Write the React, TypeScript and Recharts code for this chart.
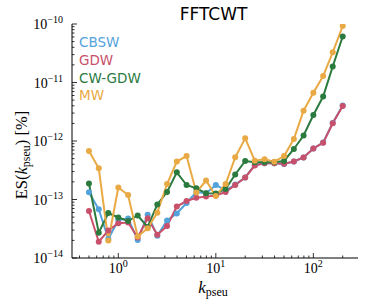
import { LineChart, Line, XAxis, YAxis, Legend, Label } from 'recharts';

const kPseu = [0.5, 0.63, 0.79, 1.0, 1.26, 1.58, 2.0, 2.51, 3.16, 3.98, 5.01, 6.31, 7.94, 10.0, 12.6, 15.8, 20.0, 25.1, 31.6, 39.8, 50.1, 63.1, 79.4, 100, 126, 158, 200];

const cbsw = [1.33e-13, 6.8e-14, 2.11e-14, 4.47e-14, 4.73e-14, 2.03e-14, 5.5e-14, 2.4e-14, 4.38e-14, 5.77e-14, 8.71e-14, 1.34e-13, 1.28e-13, 1.77e-13, 1.43e-13, 1.8e-13, 2.38e-13, 3.89e-13, 4.16e-13, 4.16e-13, 4.04e-13, 4.46e-13, 5.22e-13, 7.44e-13, 9.42e-13, 2.03e-12, 4.05e-12];
const gdw = [6.36e-14, 1.9e-14, 2.95e-14, 3.92e-14, 4.05e-14, 2.24e-14, 4.77e-14, 2.5e-14, 3.52e-14, 7.59e-14, 9.42e-14, 1.07e-13, 1.12e-13, 1.17e-13, 1.34e-13, 1.77e-13, 2.38e-13, 3.81e-13, 4.16e-13, 4.16e-13, 4.1e-13, 4.46e-13, 5.22e-13, 7.44e-13, 9.35e-13, 2.01e-12, 3.96e-12];
const cwGdw = [1.88e-13, 2.71e-14, 5.88e-14, 4.92e-14, 4.29e-14, 5.33e-14, 3.39e-14, 8.22e-14, 1.34e-13, 2.92e-13, 1.77e-13, 1.55e-13, 1.28e-13, 1.27e-13, 1.51e-13, 2.68e-13, 4.55e-13, 4.32e-13, 4.32e-13, 4.32e-13, 4.55e-13, 7.3e-13, 1.24e-12, 2.78e-12, 5.76e-12, 1.88e-11, 6.11e-11];
const mw = [6.75e-13, 3.41e-13, 1.99e-14, 1.6e-13, 1.19e-13, 2.33e-14, 3.22e-14, 5.95e-14, 1.84e-13, 4.46e-13, 5.54e-13, 1.32e-13, 2.11e-13, 1.15e-13, 1.84e-13, 5.26e-13, 1.11e-12, 4.61e-13, 4.87e-13, 4.43e-13, 5.54e-13, 1.08e-12, 3.3e-12, 6.7e-12, 1.29e-11, 3.28e-11, 9.25e-11];

const series = [
  { key: 'cbsw', name: 'CBSW', color: '#53a2db' },
  { key: 'gdw', name: 'GDW', color: '#c9506a' },
  { key: 'cwGdw', name: 'CW-GDW', color: '#2b7a3e' },
  { key: 'mw', name: 'MW', color: '#e9a944' },
];

const xMajor = [1, 10, 100];
const xMinor = [0.4, 0.5, 0.6, 0.7, 0.8, 0.9, 2, 3, 4, 5, 6, 7, 8, 9, 20, 30, 40, 50, 60, 70, 80, 90, 200];
const yMajor = [1e-14, 1e-13, 1e-12, 1e-11, 1e-10];
const minorSteps = [2, 3, 4, 5, 6, 7, 8, 9];
const yMinor = yMajor.slice(0, 4).flatMap((d) => minorSteps.map((m) => m * d));

const xDomain = [0.335, 287];
const yDomain = [1e-14, 1e-10];

const data = kPseu.map((k, i) => ({
  k,
  cbsw: cbsw[i],
  gdw: gdw[i],
  cwGdw: cwGdw[i],
  mw: mw[i],
}));

const SERIF = '"Liberation Serif", "DejaVu Serif", serif';
const SANS = '"DejaVu Sans", sans-serif';
const MAJOR_LEN = 5;
const MINOR_LEN = 2.5;

const isMajor = (v: number, majors: number[]) => majors.some((m) => Math.abs(v / m - 1) < 1e-6);
const expOf = (v: number) => {
  const e = Math.round(Math.log10(v));
  return e < 0 ? `\u2212${-e}` : `${e}`;
};

function Pow10({ x, y, v, anchor }: { x: number; y: number; v: number; anchor: 'middle' | 'end' }) {
  return (
    <text x={x} y={y} textAnchor={anchor} fontFamily={SERIF} fontSize={14} fill="#000">
      10
      <tspan dy={-6} fontSize={10}>
        {expOf(v)}
      </tspan>
    </text>
  );
}

function BottomTick(props: any) {
  const { x, y, payload } = props;
  const major = isMajor(payload.value, xMajor);
  return (
    <g>
      <line x1={x} x2={x} y1={y} y2={y - (major ? MAJOR_LEN : MINOR_LEN)} stroke="#000" strokeWidth={0.8} />
      {major && <Pow10 x={x} y={y + 15} v={payload.value} anchor="middle" />}
    </g>
  );
}

function TopTick(props: any) {
  const { x, y, payload } = props;
  const major = isMajor(payload.value, xMajor);
  return <line x1={x} x2={x} y1={y} y2={y + (major ? MAJOR_LEN : MINOR_LEN)} stroke="#000" strokeWidth={0.8} />;
}

function LeftTick(props: any) {
  const { x, y, payload } = props;
  const major = isMajor(payload.value, yMajor);
  return (
    <g>
      <line x1={x} x2={x + (major ? MAJOR_LEN : MINOR_LEN)} y1={y} y2={y} stroke="#000" strokeWidth={0.8} />
      {major && <Pow10 x={x - 9} y={y + 5} v={payload.value} anchor="end" />}
    </g>
  );
}

function RightTick(props: any) {
  const { x, y, payload } = props;
  const major = isMajor(payload.value, yMajor);
  return <line x1={x} x2={x - (major ? MAJOR_LEN : MINOR_LEN)} y1={y} y2={y} stroke="#000" strokeWidth={0.8} />;
}

function LegendBox() {
  return (
    <div style={{ fontFamily: SANS, fontSize: 13.5, lineHeight: '17.8px' }}>
      {series.map((s) => (
        <div key={s.key} style={{ color: s.color }}>
          {s.name}
        </div>
      ))}
    </div>
  );
}

export default function App() {
  return (
    <div style={{ position: 'absolute', left: 0, top: 0, background: '#fff' }}>
      <LineChart width={366} height={306} data={data} margin={{ top: 24, right: 8, bottom: 0, left: 0 }}>
        <XAxis
          dataKey="k"
          type="number"
          scale="log"
          domain={xDomain}
          allowDataOverflow
          ticks={[...xMajor, ...xMinor]}
          interval={0}
          tickSize={0}
          tickMargin={0}
          tick={(p: any) => <BottomTick {...p} />}
          height={48}
          stroke="#000"
        >
          <Label
            content={() => (
              <text x={213} y={293} textAnchor="middle" fontFamily={SERIF} fontSize={17} fill="#000">
                <tspan fontStyle="italic">k</tspan>
                <tspan dy={3} fontSize={12}>pseu</tspan>
              </text>
            )}
          />
        </XAxis>
        <XAxis
          xAxisId="top"
          orientation="top"
          dataKey="k"
          type="number"
          scale="log"
          domain={xDomain}
          allowDataOverflow
          ticks={[...xMajor, ...xMinor]}
          interval={0}
          tickSize={0}
          tickMargin={0}
          tick={(p: any) => <TopTick {...p} />}
          height={0}
          stroke="#000"
        />
        <YAxis
          type="number"
          scale="log"
          domain={yDomain}
          allowDataOverflow
          ticks={[...yMajor, ...yMinor]}
          interval={0}
          tickSize={0}
          tickMargin={0}
          tick={(p: any) => <LeftTick {...p} />}
          width={72}
          stroke="#000"
        >
          <Label
            content={() => (
              <text
                x={27}
                y={155}
                transform="rotate(-90, 27, 155)"
                textAnchor="middle"
                fontFamily={SERIF}
                fontSize={16.5}
                fill="#000"
              >
                ES(
                <tspan fontStyle="italic">k</tspan>
                <tspan dy={3} fontSize={12}>pseu</tspan>
                <tspan dy={-3}>)  [%]</tspan>
              </text>
            )}
          />
          <Label
            content={() => (
              <text x={213.5} y={20} textAnchor="middle" fontFamily={SANS} fontSize={17} fill="#000">
                FFTCWT
              </text>
            )}
          />
        </YAxis>
        <YAxis
          yAxisId="right"
          orientation="right"
          type="number"
          scale="log"
          domain={yDomain}
          allowDataOverflow
          ticks={[...yMajor, ...yMinor]}
          interval={0}
          tickSize={0}
          tickMargin={0}
          tick={(p: any) => <RightTick {...p} />}
          width={0}
          stroke="#000"
        />
        <Legend
          layout="vertical"
          align="center"
          verticalAlign="middle"
          wrapperStyle={{ left: 79, top: 34, width: 'auto', height: 'auto' }}
          content={() => <LegendBox />}
        />
        {series.map((s) => (
          <Line
            key={s.key}
            dataKey={s.key}
            name={s.name}
            stroke={s.color}
            strokeWidth={2}
            dot={{ r: 3, fill: s.color, stroke: s.color, strokeWidth: 0 }}
            isAnimationActive={false}
          />
        ))}
      </LineChart>
    </div>
  );
}
